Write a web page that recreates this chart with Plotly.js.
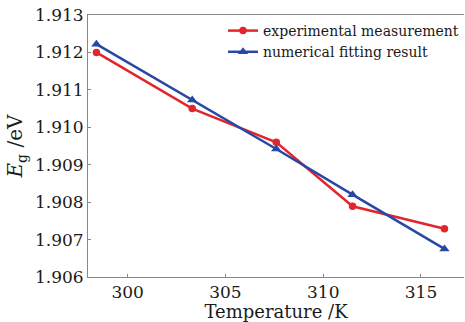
<!DOCTYPE html>
<html>
<head>
<meta charset="utf-8">
<script src="https://cdn.plot.ly/plotly-3.0.1.min.js"></script>
<style>html,body{margin:0;padding:0;background:#fff;}#chart{width:465px;height:322px;}</style>
</head>
<body>
<div id="chart"></div>
<script>
const temperature = [298.4, 303.3, 307.6, 311.5, 316.2];
const measured = [1.9120, 1.9105, 1.9096, 1.90789, 1.90729];
const fitted = [1.91222, 1.91073, 1.90942, 1.90820, 1.90675];
const yTicks = [1.906, 1.907, 1.908, 1.909, 1.910, 1.911, 1.912, 1.913];
const yTickText = ["1.906", "1.907", "1.908", "1.909", "1.910", "1.911", "1.912", "1.913"];
const xTicks = [300, 305, 310, 315];
const seriesNames = ["experimental measurement", "numerical fitting result"];

const serif = "DejaVu Serif, Liberation Serif, serif";
const traces = [
  {x: temperature, y: measured, name: seriesNames[0], mode: "lines+markers",
   line: {color: "#e2262c", width: 2.5},
   marker: {symbol: "circle", size: 7.5, color: "#e2262c"}},
  {x: temperature, y: fitted, name: seriesNames[1], mode: "lines+markers",
   line: {color: "#2848a6", width: 2.5},
   marker: {symbol: "triangle-up", size: 9, color: "#2848a6"}}
];
const layout = {
  width: 465, height: 322,
  margin: {l: 88, r: 1, t: 15, b: 45, pad: 0, autoexpand: false},
  paper_bgcolor: "#fff", plot_bgcolor: "#fff",
  font: {family: serif, color: "#1a1a1a", size: 17},
  showlegend: true,
  legend: {x: 1.0, y: 1.0, xanchor: "right", yanchor: "top",
           bgcolor: "rgba(255,255,255,0)", font: {family: serif, size: 14, color: "#1a1a1a"},
           itemwidth: 30, tracegroupgap: 0},
  xaxis: {range: [297.97, 317.2], tickvals: xTicks, ticks: "inside", ticklen: 3,
          tickcolor: "#888", showline: true, linecolor: "#888", linewidth: 1, mirror: true,
          showgrid: false, zeroline: false, tickfont: {size: 17}, automargin: false,
          title: {text: "Temperature /K", font: {size: 18}, standoff: 0}},
  yaxis: {range: [1.906, 1.913], tickvals: yTicks, ticktext: yTickText, ticks: "inside",
          ticklen: 3, tickcolor: "#888", showline: true, linecolor: "#888", linewidth: 1,
          showgrid: false, zeroline: false, tickfont: {size: 17}, automargin: false,
          title: {text: "<i>E</i><sub>g</sub> /eV", font: {size: 20}, standoff: 6}}
};
Plotly.newPlot("chart", traces, layout, {staticPlot: true, displayModeBar: false});
</script>
</body>
</html>
